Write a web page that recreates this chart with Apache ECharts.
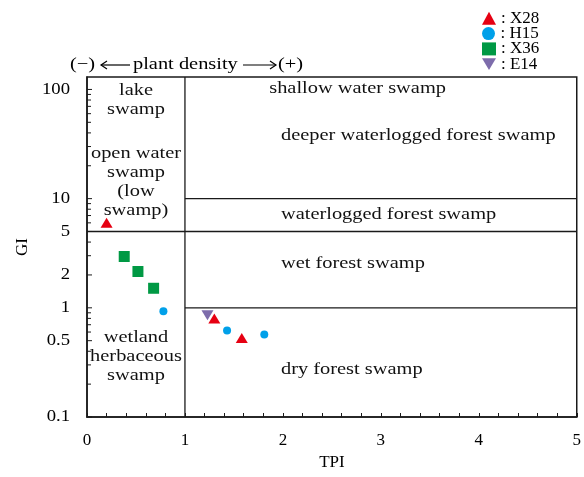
<!DOCTYPE html>
<html>
<head>
<meta charset="utf-8">
<script src="https://cdn.jsdelivr.net/npm/echarts@6/dist/echarts.min.js"></script>
<style>
  html, body { margin: 0; padding: 0; background: #fff; }
  #chart { width: 584px; height: 477px; }
</style>
</head>
<body>
<div id="chart"></div>
<script>
// Sample points: [TPI, GI]
const x28 = [[0.20, 6.0], [1.30, 0.80], [1.58, 0.53]];
const h15 = [[0.78, 0.93], [1.43, 0.62], [1.81, 0.57]];
const x36 = [[0.38, 2.95], [0.52, 2.15], [0.68, 1.51]];
const e14 = [[1.23, 0.855]];

// Axis extents
const tpiRange = [0, 5];
const giRange = [0.1, 130];

// Facies boundaries
const tpiDivide = 1;
const giUpperLine = 10;   // from TPI 1 to 5
const giMiddleLine = 5;   // across the whole plot
const giLowerLine = 1;    // from TPI 1 to 5

// GI tick marks
const giLabelTicks = [100, 10, 5, 2, 1, 0.5, 0.1];
const giMinorTicks = [90, 80, 70, 60, 50, 40, 30, 20, 9, 8, 7, 6, 4, 3, 0.9, 0.8, 0.7, 0.6, 0.4, 0.3, 0.2];

// Legend entries
const seriesNames = ['X28', 'H15', 'X36', 'E14'];
const legendIcons = ['triangle', 'circle', 'rect', 'path://M0,0L12,0L6,10Z'];

// Facies names
const zoneNames = [
  'lake\nswamp',
  'open water\nswamp\n(low\nswamp)',
  'wetland\nherbaceous\nswamp',
  'shallow water swamp',
  'deeper waterlogged forest swamp',
  'waterlogged forest swamp',
  'wet forest swamp',
  'dry forest swamp'
];
// Where each facies name sits: [TPI, GI, alignment]
const zoneAnchors = [
  [0.5, 80, 'center'],
  [0.5, 14.1, 'center'],
  [0.5, 0.36, 'center'],
  [1.86, 103, 'left'],
  [1.98, 37.7, 'left'],
  [1.98, 7.1, 'left'],
  [1.98, 2.57, 'left'],
  [1.98, 0.27, 'left']
];

const FONT = 'Liberation Serif';
const INK = '#1a1a1a';
const WIDE = 1.2;

function boundary(points) {
  return {
    type: 'line', data: points, symbol: 'none', silent: true, z: 1,
    lineStyle: { color: INK, width: 1.3 }, animation: false
  };
}

// One single-entry legend per series, stacked tightly in the top-right corner
const legends = seriesNames.map((name, i) => ({
  orient: 'vertical', left: 482, top: 9.8 + i * 15.3, padding: 0,
  itemWidth: 14, itemHeight: 13,
  formatter: ': {name}',
  textStyle: { fontFamily: FONT, fontSize: 17, color: '#000' },
  data: [{ name: name, icon: legendIcons[i] }]
}));

const chart = echarts.init(document.getElementById('chart'));
chart.setOption({
  animation: false,
  backgroundColor: '#fff',
  grid: { left: 87, right: 6, top: 77, bottom: 60, show: true, borderColor: INK, borderWidth: 1.5 },
  legend: legends,
  xAxis: {
    type: 'value', min: tpiRange[0], max: tpiRange[1], interval: 1,
    name: 'TPI', nameLocation: 'middle', nameGap: 35,
    nameTextStyle: { fontFamily: FONT, fontSize: 17, color: '#000' },
    axisLine: { show: true, lineStyle: { color: INK, width: 1.5 } },
    axisTick: { show: true, inside: true, length: 4, lineStyle: { color: INK } },
    minorTick: { show: true, splitNumber: 5, length: 4, lineStyle: { color: INK } },
    axisLabel: { fontFamily: FONT, fontSize: 17, color: '#000', margin: 15 },
    splitLine: { show: false }
  },
  yAxis: {
    type: 'log', logBase: 10, min: giRange[0], max: giRange[1],
    name: 'GI', nameLocation: 'middle', nameGap: 56,
    nameTextStyle: { fontFamily: FONT, fontSize: 17, color: '#000' },
    axisLine: { show: true, lineStyle: { color: INK, width: 1.5 } },
    axisTick: { show: false },
    axisLabel: { show: false },
    splitLine: { show: false }
  },
  graphic: [
    { type: 'text', x: 70, y: 65, scaleX: WIDE,
      style: { text: '(\u2212)', fontFamily: FONT, fontSize: 17, fill: '#000', align: 'left', verticalAlign: 'middle', textAlign: 'left', textVerticalAlign: 'middle' } },
    { type: 'line', shape: { x1: 101, y1: 65, x2: 130, y2: 65 }, style: { stroke: '#000', lineWidth: 1.2 } },
    { type: 'polyline', shape: { points: [[107, 61], [101, 65], [107, 69]] }, style: { stroke: '#000', lineWidth: 1.2, fill: null } },
    { type: 'text', x: 133, y: 65, scaleX: WIDE,
      style: { text: 'plant density', fontFamily: FONT, fontSize: 17, fill: '#000', align: 'left', verticalAlign: 'middle', textAlign: 'left', textVerticalAlign: 'middle' } },
    { type: 'line', shape: { x1: 243, y1: 65, x2: 276, y2: 65 }, style: { stroke: '#000', lineWidth: 1.2 } },
    { type: 'polyline', shape: { points: [[270, 61], [276, 65], [270, 69]] }, style: { stroke: '#000', lineWidth: 1.2, fill: null } },
    { type: 'text', x: 278, y: 65, scaleX: WIDE,
      style: { text: '(+)', fontFamily: FONT, fontSize: 17, fill: '#000', align: 'left', verticalAlign: 'middle', textAlign: 'left', textVerticalAlign: 'middle' } }
  ],
  series: [
    boundary([[tpiDivide, giRange[0]], [tpiDivide, giRange[1]]]),
    boundary([[tpiDivide, giUpperLine], [tpiRange[1], giUpperLine]]),
    boundary([[tpiRange[0], giMiddleLine], [tpiRange[1], giMiddleLine]]),
    boundary([[tpiDivide, giLowerLine], [tpiRange[1], giLowerLine]]),
    {
      // GI tick marks on the inside of the left axis
      type: 'custom', silent: true, z: 2,
      data: giLabelTicks.map(v => [0, v, 5]).concat(giMinorTicks.map(v => [0, v, 4])),
      renderItem: function (params, api) {
        const p = api.coord([api.value(0), api.value(1)]);
        return {
          type: 'line',
          shape: { x1: p[0], y1: p[1], x2: p[0] + api.value(2), y2: p[1] },
          style: { stroke: INK, lineWidth: 1 }
        };
      }
    },
    {
      // GI tick labels
      type: 'custom', silent: true, z: 2,
      data: giLabelTicks.map(v => [0, v]),
      renderItem: function (params, api) {
        const v = api.value(1);
        const p = api.coord([api.value(0), v]);
        return {
          type: 'text', x: p[0] - 17, y: p[1], scaleX: 1.1,
          style: { text: String(v), fontFamily: FONT, fontSize: 17, fill: '#000', align: 'right', verticalAlign: 'middle', textAlign: 'right', textVerticalAlign: 'middle' }
        };
      }
    },
    {
      // Facies names
      type: 'custom', silent: true, z: 2,
      data: zoneAnchors.map(a => [a[0], a[1]]),
      renderItem: function (params, api) {
        const i = params.dataIndex;
        const p = api.coord([api.value(0), api.value(1)]);
        const al = zoneAnchors[i][2];
        return {
          type: 'text', x: p[0], y: p[1], scaleX: WIDE,
          style: { text: zoneNames[i], fontFamily: FONT, fontSize: 17, lineHeight: 19, fill: '#111', align: al, verticalAlign: 'middle', textAlign: al, textVerticalAlign: 'middle' }
        };
      }
    },
    { name: 'E14', type: 'scatter', data: e14, symbol: 'triangle', symbolRotate: 180, symbolSize: [12, 10], itemStyle: { color: '#7d6cab', opacity: 1 }, z: 3 },
    { name: 'H15', type: 'scatter', data: h15, symbol: 'circle', symbolSize: 8, itemStyle: { color: '#00a0e9', opacity: 1 }, z: 3 },
    { name: 'X36', type: 'scatter', data: x36, symbol: 'rect', symbolSize: 11, itemStyle: { color: '#009944', opacity: 1 }, z: 3 },
    { name: 'X28', type: 'scatter', data: x28, symbol: 'triangle', symbolSize: [12, 10], itemStyle: { color: '#e60012', opacity: 1 }, z: 4 }
  ]
});
</script>
</body>
</html>
